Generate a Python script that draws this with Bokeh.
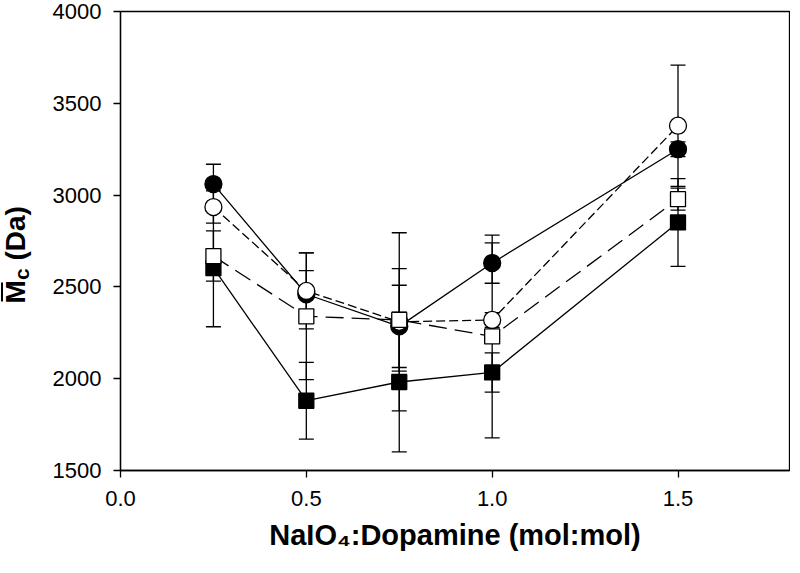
from math import pi
from bokeh.plotting import figure
from bokeh.layouts import row
from bokeh.models import (ColumnDataSource, Whisker, TeeHead, FixedTicker,
                          Range1d, PrintfTickFormatter)
from bokeh.core.properties import value
from bokeh.embed import file_html
from bokeh.resources import INLINE

# ---- data ----
ratio = [0.25, 0.5, 0.75, 1.0, 1.5]
# filled circles, solid line
s1_y = [3060, 2460, 2285, 2630, 3250]
s1_e = [108, 129, 224, 110, 40]
# open circles, short dashed line
s2_y = [2935, 2478, 2310, 2320, 3378]
s2_e = [88, 207, 485, 40, 330]
# open squares, long dashed line
s3_y = [2668, 2340, 2320, 2230, 2978]
s3_e = [137, 345, 279, 552, 60]
# filled squares, solid line
s4_y = [2603, 1880, 1982, 2034, 2851]
s4_e = [320, 209, 381, 107, 239]

x_ticks = [0.0, 0.5, 1.0, 1.5]
y_ticks = [1500, 2000, 2500, 3000, 3500, 4000]
x_title = "NaIO\u2084:Dopamine (mol:mol)"

FONT = "Liberation Sans"
H = 557

# ---------- main plot ----------
p = figure(width=746, height=H,
           x_range=Range1d(0, 1.8), y_range=Range1d(1500, 4000),
           output_backend="svg", toolbar_location=None,
           min_border_left=76, min_border_right=1, min_border_top=11,
           min_border_bottom=87)
p.grid.visible = False
p.background_fill_color = "white"
p.border_fill_color = "white"
p.outline_line_color = "black"
p.outline_line_width = 1.3

for ax in (p.xaxis[0], p.yaxis[0]):
    ax.axis_line_width = 1.3
    ax.axis_line_color = "black"
    ax.major_tick_line_width = 1.3
    ax.major_tick_line_color = "black"
    ax.major_tick_in = 0
    ax.major_tick_out = 7
    ax.minor_tick_line_color = None
    ax.major_label_text_font = FONT
    ax.major_label_text_font_size = "22px"
    ax.major_label_text_color = "black"

p.xaxis.ticker = FixedTicker(ticks=x_ticks)
p.xaxis.formatter = PrintfTickFormatter(format="%.1f")
p.xaxis.major_label_standoff = 13
p.xaxis.axis_label = x_title
p.xaxis.axis_label_text_font = FONT
p.xaxis.axis_label_text_font_style = "bold"
p.xaxis.axis_label_text_font_size = "29px"
p.xaxis.axis_label_text_color = "black"
p.xaxis.axis_label_standoff = 10

p.yaxis.ticker = FixedTicker(ticks=y_ticks)
p.yaxis.major_label_standoff = 12

series = [
    (s4_y, s4_e, "square", "black", "solid", 15),
    (s1_y, s1_e, "circle", "black", "solid", 17),
    (s2_y, s2_e, "circle", "white", "9 4", 17),
    (s3_y, s3_e, "square", "white", "18 8", 15),
]

for ys, es, mk, fill, dash, size in series:
    src = ColumnDataSource(dict(x=ratio, y=ys,
                                lo=[a - b for a, b in zip(ys, es)],
                                hi=[a + b for a, b in zip(ys, es)]))
    w = Whisker(source=src, base="x", lower="lo", upper="hi",
                line_color="black", line_width=1.3, level="underlay",
                lower_head=TeeHead(size=15, line_width=1.3, line_color="black"),
                upper_head=TeeHead(size=15, line_width=1.3, line_color="black"))
    p.add_layout(w)
    p.line("x", "y", source=src, line_color="black", line_width=1.3, line_dash=dash)
    p.scatter("x", "y", source=src, marker=mk, size=size, fill_color=fill,
              line_color="black", line_width=1.3)

# ---------- y-axis title panel (M-bar, subscript c, (Da)) ----------
t = figure(frame_width=44, frame_height=H, x_range=Range1d(0, 44),
           y_range=Range1d(0, H), output_backend="svg", toolbar_location=None,
           x_axis_type=None, y_axis_type=None, min_border=0)
t.grid.visible = False
t.outline_line_color = None
t.background_fill_color = "white"
t.border_fill_color = "white"

kw = dict(angle=pi / 2, text_font=value(FONT), text_font_style="bold",
          text_color="black", text_align="left", text_baseline="middle")
t.text(x=[15], y=[265], text=["M"], text_font_size="28px", **kw)
t.text(x=[20.5], y=[288.5], text=["c"], text_font_size="21px", **kw)
t.text(x=[15], y=[308], text=["(Da)"], text_font_size="28px", **kw)
t.quad(left=[0.5], right=[2.5], bottom=[267], top=[286],
       fill_color="black", line_color=None)

layout = row(t, p)
open("out.html", "w").write(file_html(layout, INLINE))
